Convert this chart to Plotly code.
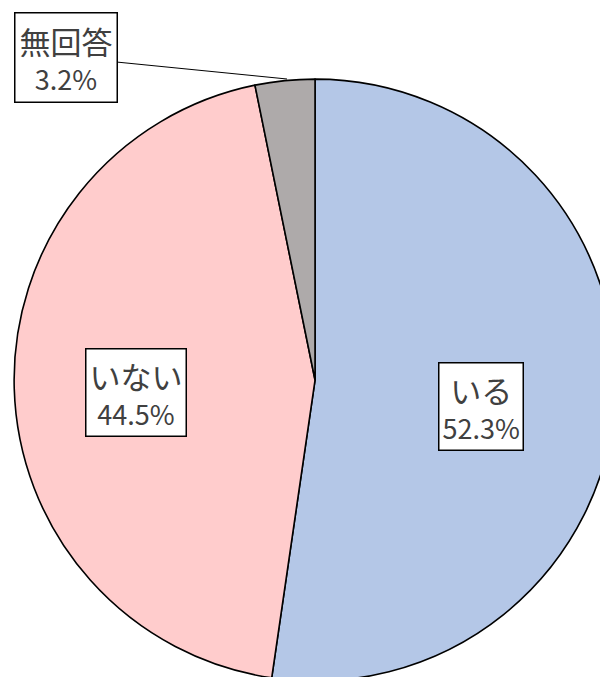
import plotly.graph_objects as go

labels = ["いる", "いない", "無回答"]
values = [52.3, 44.5, 3.2]
pct_text = ["52.3%", "44.5%", "3.2%"]

colors = ["#b4c7e7", "#ffcccc", "#aeaaaa"]
W, H = 608, 677
OFF = 8  # page body margin offset

fig = go.Figure(go.Pie(
    labels=labels, values=values, sort=False, direction="clockwise", rotation=0,
    marker=dict(colors=colors, line=dict(color="#000000", width=1.6)),
    textinfo="none", hoverinfo="label+percent", showlegend=False,
    domain=dict(x=[0.010, 1.0], y=[0.006, 0.895]),
))

font_main = dict(family="Noto Sans CJK JP", color="#404040", size=28)

def label_html(i):
    return (f"<span style='font-size:31px'>{labels[i]}</span><br>"
            f"<span style='font-size:27px'>{pct_text[i]}</span>")

def px2paper(px, py):
    return (px - OFF) / W, 1 - (py - OFF) / H

# label box positions (screen pixel centres)
box_pos = {0: (481, 406), 1: (136, 392)}
for i, (px, py) in box_pos.items():
    x, y = px2paper(px, py)
    fig.add_annotation(x=x, y=y, xref="paper", yref="paper", xanchor="center", yanchor="middle",
                       text=label_html(i), showarrow=False, font=font_main,
                       bgcolor="#ffffff", bordercolor="#000000", borderwidth=1.5,
                       borderpad=3, align="center")

# small slice label with leader line
tip = (287, 79)
box = (66, 57)
tx, ty = px2paper(*tip)
fig.add_annotation(x=tx, y=ty, xref="paper", yref="paper",
                   text=label_html(2), showarrow=True, arrowhead=0, arrowwidth=1,
                   arrowcolor="#000000", ax=box[0] - tip[0], ay=box[1] - tip[1],
                   font=font_main, bgcolor="#ffffff", bordercolor="#000000",
                   borderwidth=1.5, borderpad=4, align="center")

fig.update_layout(width=W, height=H, margin=dict(l=0, r=0, t=0, b=0),
                  paper_bgcolor="#ffffff", plot_bgcolor="#ffffff")

fig.write_html("out.html")
